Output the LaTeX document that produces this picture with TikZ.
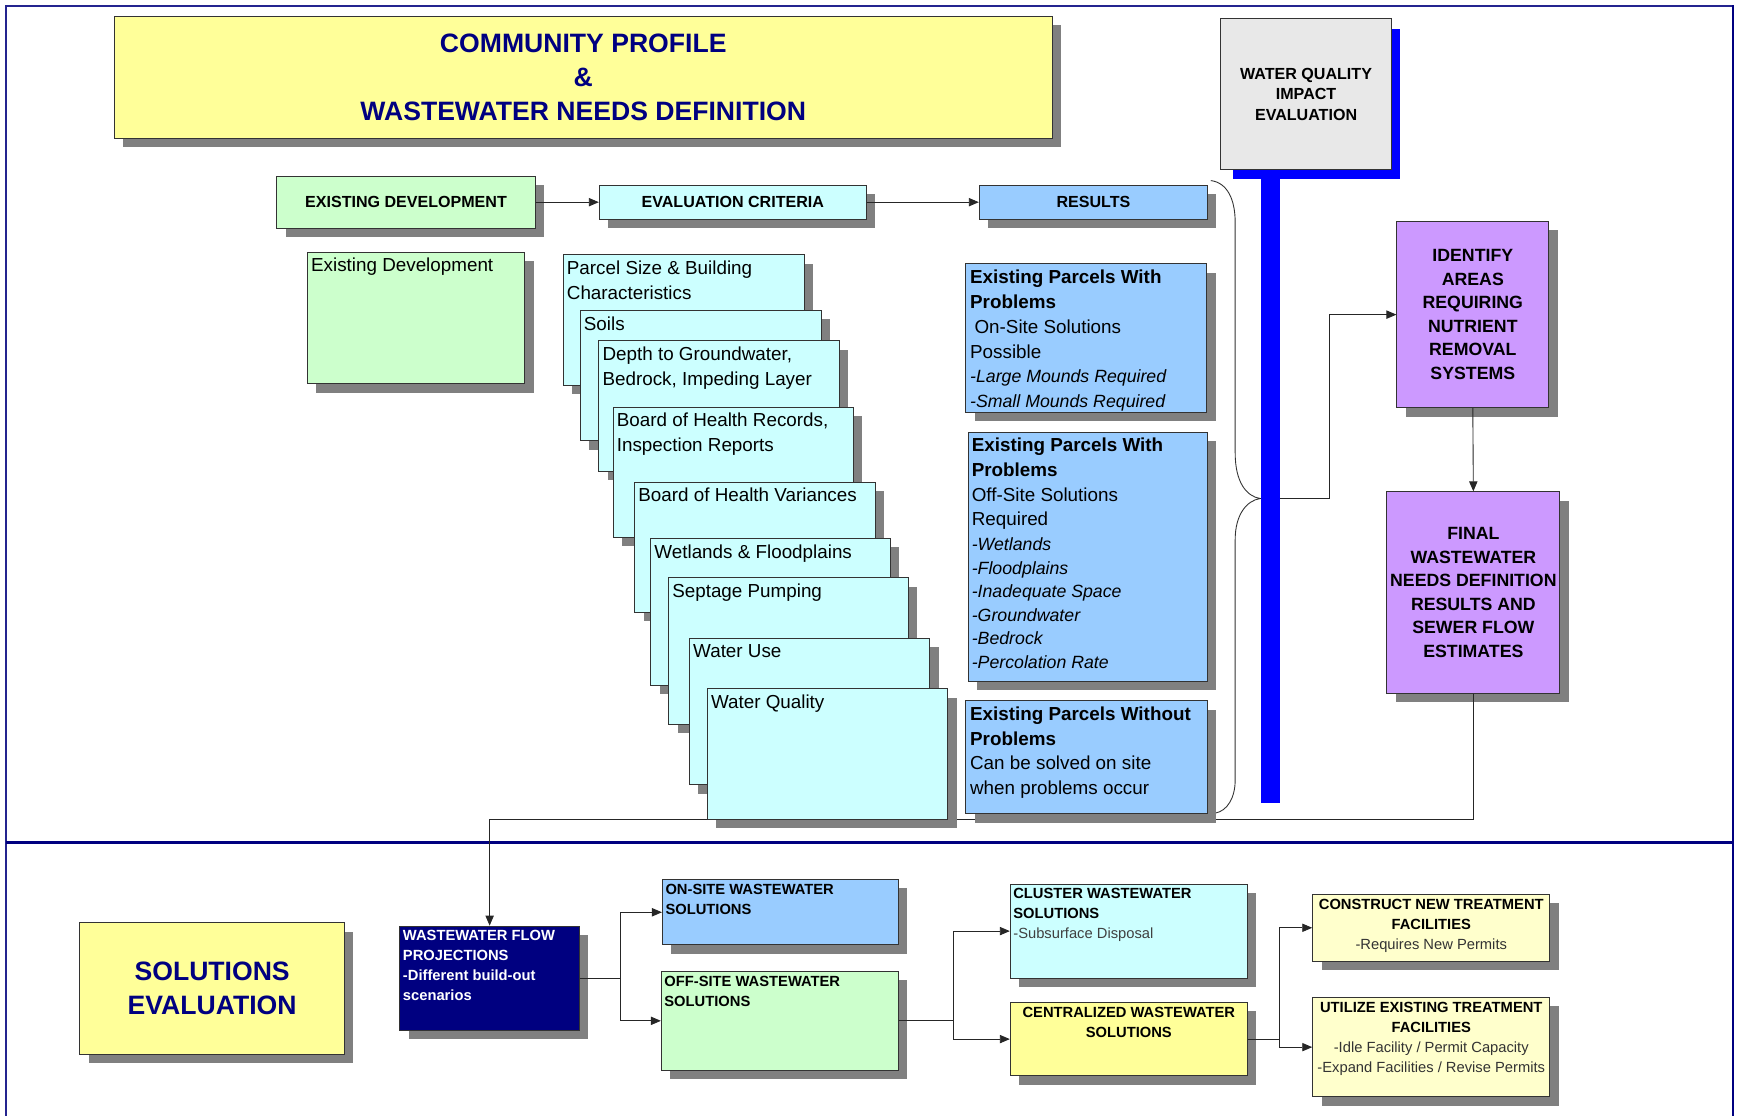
\documentclass[tikz,border=0pt]{standalone}
\usepackage{fontspec}
\setmainfont{Liberation Sans}
\usetikzlibrary{fit,calc,shadows,arrows.meta}
\definecolor{cyanbox}{HTML}{CCFFFF}
\definecolor{greenbox}{HTML}{CCFFCC}
\definecolor{bluebox}{HTML}{99CCFF}
\definecolor{purplebox}{HTML}{CC99FF}
\definecolor{yellowbox}{HTML}{FFFF99}
\definecolor{paleyellow}{HTML}{FFFFCC}
\definecolor{graybox}{HTML}{E8E8E8}
\definecolor{navyc}{HTML}{000080}
\definecolor{shadowc}{HTML}{808080}
\definecolor{barblue}{HTML}{0000FF}
\definecolor{framec}{HTML}{24248F}
\newcommand\fReg{\fontsize{17}{22.4}\selectfont}
\newcommand\fItal{\fontsize{16}{22.4}\selectfont\itshape}
\newcommand\fHead{\fontsize{14.5}{18.5}\selectfont\bfseries}
\newcommand\fBig{\fontsize{24}{30.5}\selectfont\bfseries}
\newcommand\fPur{\fontsize{16}{21.2}\selectfont\bfseries}
\newcommand\fSm{\fontsize{13.3}{18}\selectfont}
\newcommand\crit[6]{%
  \node[box, fill=cyanbox, fit={(#2,#3)(#4,#5)}] (#1) {};
  \node[tl, font=\fReg] (#1-t) at ($(#1.north west)+(3.5,5.7)$) {#6};}
\begin{document}
\begin{tikzpicture}[x=1pt,y=-1pt,
  box/.style={draw=black!80, line width=0.9pt, inner sep=0pt,
    drop shadow={shadow xshift=8pt,shadow yshift=-8pt,opacity=1,fill=shadowc,draw=none}},
  tl/.style={anchor=north west, inner sep=0pt, align=left},
  tc/.style={anchor=north, inner sep=0pt, align=center},
  conn/.style={draw=black!85, line width=0.8pt},
  arr/.style={conn, -{Triangle[length=9pt,width=7.5pt]}}]
\useasboundingbox (0,0) rectangle (1568,1007);
% frame
\draw[framec,line width=1.4pt] (5.5,1010) -- (5.5,5.5) -- (1564.5,5.5);
\draw[navyc,line width=2pt] (1564.5,4.8) -- (1564.5,1010);
\draw[navyc,line width=2.2pt] (5.5,760.5) -- (1564.5,760.5);

% purple boxes
\node[box, fill=purplebox, fit={(1261,200)(1398,368)}] (ident) {};
\node[font=\fPur, align=center, inner sep=0pt] (ident-t) at (ident.center) {IDENTIFY\\AREAS\\REQUIRING\\NUTRIENT\\REMOVAL\\SYSTEMS};
\node[box, fill=purplebox, fit={(1252,444)(1408,626)}] (final) {};
\node[font=\fPur, align=center, inner sep=0pt] (final-t) at (final.center) {FINAL\\WASTEWATER\\NEEDS DEFINITION\\RESULTS AND\\SEWER FLOW\\ESTIMATES};

% brace and its connector
\draw[black!80, line width=0.8pt] (1093,163) .. controls (1108,165) and (1115,180) .. (1115,201) -- (1115,409)
  .. controls (1115,435) and (1125,448) .. (1137.5,450)
  .. controls (1125,452) and (1115,465) .. (1115,487) -- (1115,704)
  .. controls (1115,720) and (1108,732) .. (1097,734);
\coordinate (bracetip) at (1137.5,450);
\draw[arr] (bracetip) -- (1200,450) |- (ident.west);

% blue bar and water quality box
\fill[barblue] (1113,26) rectangle (1264,162);
\fill[barblue] (1138,160) rectangle (1155.5,725);
\node[draw=black!80, line width=0.9pt, inner sep=0pt, fill=graybox, fit={(1102,17)(1256,153)}] (wq) {};
\node[font=\fHead, align=center, inner sep=0pt] (wq-t) at (wq.center) {WATER QUALITY\\IMPACT\\EVALUATION};

% title
\node[box, fill=yellowbox, fit={(103,15)(950,125)}] (title) {};
\node[font=\fBig, text=navyc, align=center, inner sep=0pt] (title-t) at (title.center) {COMMUNITY PROFILE\\\&\\WASTEWATER NEEDS DEFINITION};

% headers
\node[box, fill=greenbox, fit={(250,159)(483,206)}] (hExist) {};
\node[font=\fHead, inner sep=0pt] (hExist-t) at (hExist.center) {EXISTING DEVELOPMENT};
\node[box, fill=cyanbox, fit={(541,167)(782,198)}] (hEval) {};
\node[font=\fHead, inner sep=0pt] (hEval-t) at (hEval.center) {EVALUATION CRITERIA};
\node[box, fill=bluebox, fit={(884,167)(1090,198)}] (hRes) {};
\node[font=\fHead, inner sep=0pt] (hRes-t) at (hRes.center) {RESULTS};
\draw[arr] (hExist.east) -- (hEval.west);
\draw[arr] (hEval.east) -- (hRes.west);

% existing development
\node[box, fill=greenbox, fit={(277.6,227.7)(473.8,346.4)}] (exdev) {};
\node[tl, font=\fReg] (exdev-t) at ($(exdev.north west)+(3.5,5.7)$) {Existing Development};

% connector from final to flow projections (drawn under the stack)
\node[box, fill=navyc, fit={(361,836)(523,930)}] (flow) {};
\draw[arr] (final.south) -- (1330,739.6) -| (flow.north);

% criteria stack
\crit{ca}{508.5}{230}{726}{348}{Parcel Size \& Building\\Characteristics}
\crit{cb}{523.8}{280.2}{741.4}{398}{Soils}
\crit{cc}{540.7}{307.5}{757.9}{425.3}{Depth to Groundwater,\\Bedrock, Impeding Layer}
\crit{cd}{553.6}{367.6}{770.4}{485}{Board of Health Records,\\Inspection Reports}
\crit{ce}{573}{435.3}{790.2}{553}{Board of Health Variances}
\crit{cf}{587.5}{486}{803.9}{618.7}{Wetlands \& Floodplains}
\crit{cg}{603.6}{521.7}{820}{654}{Septage Pumping}
\crit{ch}{622.5}{576}{839.3}{708.5}{Water Use}
\crit{ci}{638.6}{621.9}{855.5}{739.7}{Water Quality}

% results
\node[box, fill=bluebox, fit={(872,238)(1089.5,372)}] (r1) {};
\node[tl, font=\fReg] (r1-t) at ($(r1.north west)+(4,6)$) {\textbf{Existing Parcels With}\\\textbf{Problems}\\\hspace*{4pt}On-Site Solutions\\Possible\\{\fItal -Large Mounds Required}\\{\fItal -Small Mounds Required}};
\node[box, fill=bluebox, fit={(874,390)(1090,615)}] (r2) {};
\node[tl, font=\fReg] (r2-t) at ($(r2.north west)+(3.5,5.5)$) {\textbf{Existing Parcels With}\\\textbf{Problems}\\Off-Site Solutions\\Required\\{\fItal -Wetlands}\\[-1.2pt]{\fItal -Floodplains}\\[-1.2pt]{\fItal -Inadequate Space}\\[-1.2pt]{\fItal -Groundwater}\\[-1.2pt]{\fItal -Bedrock}\\[-1.2pt]{\fItal -Percolation Rate}};
\node[box, fill=bluebox, fit={(872,632.6)(1090,734.6)}] (r3) {};
\node[tl, font=\fReg] (r3-t) at ($(r3.north west)+(4,5.5)$) {\textbf{Existing Parcels Without}\\\textbf{Problems}\\Can be solved on site\\when problems occur};

\draw[arr] (ident.south) -- (final.north);

% solutions evaluation
\node[box, fill=yellowbox, fit={(72,833)(311,952)}] (solEval) {};
\node[font=\fBig, text=navyc, align=center, inner sep=0pt] (solEval-t) at (solEval.center) {SOLUTIONS\\EVALUATION};

\node[tl, font=\fSm\bfseries, text=white] (flow-t) at ($(flow.north west)+(3,4.2)$) {WASTEWATER FLOW\\PROJECTIONS\\-Different build-out\\scenarios};

\node[box, fill=bluebox, fit={(598,794)(811,853)}] (onsite) {};
\node[tl, font=\fSm\bfseries] (onsite-t) at ($(onsite.north west)+(3,4.2)$) {ON-SITE WASTEWATER\\SOLUTIONS};
\node[box, fill=greenbox, fit={(597,877)(811,966)}] (offsite) {};
\node[tl, font=\fSm\bfseries] (offsite-t) at ($(offsite.north west)+(3,4.2)$) {OFF-SITE WASTEWATER\\SOLUTIONS};

\node[box, fill=cyanbox, fit={(912,798)(1126,883)}] (cluster) {};
\node[tl, font=\fSm] (cluster-t) at ($(cluster.north west)+(3,4.2)$) {\textbf{CLUSTER WASTEWATER}\\\textbf{SOLUTIONS}\\\textcolor{black!75}{-Subsurface Disposal}};
\node[box, fill=yellowbox, fit={(912,905)(1126,971)}] (central) {};
\node[tc, font=\fSm\bfseries] (central-t) at ($(central.north)+(0,4.2)$) {CENTRALIZED WASTEWATER\\SOLUTIONS};

\node[box, fill=paleyellow, fit={(1185,807.5)(1399,867.5)}] (construct) {};
\node[tc, font=\fSm] (construct-t) at ($(construct.north)+(0,4.6)$) {\textbf{CONSTRUCT NEW TREATMENT}\\\textbf{FACILITIES}\\\textcolor{black!80}{-Requires New Permits}};
\node[box, fill=paleyellow, fit={(1185,900.5)(1399,990)}] (utilize) {};
\node[tc, font=\fSm] (utilize-t) at ($(utilize.north)+(0,4.6)$) {\textbf{UTILIZE EXISTING TREATMENT}\\\textbf{FACILITIES}\\\textcolor{black!80}{-Idle Facility / Permit Capacity}\\\textcolor{black!80}{-Expand Facilities / Revise Permits}};

% bottom connectors
\coordinate (j1) at (560,883);
\draw[conn] (flow.east) -- (j1);
\draw[arr] (j1) |- (onsite.west);
\draw[arr] (j1) |- (offsite.west);
\coordinate (j2) at (861,921.5);
\draw[conn] (offsite.east) -- (j2);
\draw[arr] (j2) |- (cluster.west);
\draw[arr] (j2) |- (central.west);
\coordinate (j3) at (1155,938);
\draw[conn] (central.east) -- (j3);
\draw[arr] (j3) |- (construct.west);
\draw[arr] (j3) |- (utilize.west);
\end{tikzpicture}
\end{document}
